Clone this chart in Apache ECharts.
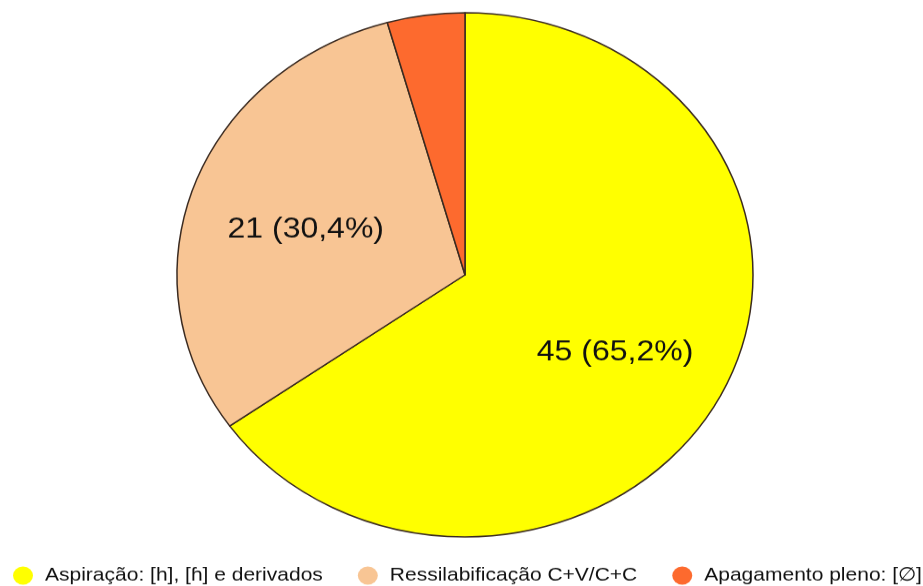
<!DOCTYPE html>
<html>
<head>
<meta charset="utf-8">
<script src="https://cdn.jsdelivr.net/npm/echarts@6/dist/echarts.min.js"></script>
<style>
html,body{margin:0;padding:0;background:#fff;overflow:hidden;width:923px;height:586px;}
#chart{width:923px;height:644px;transform:scaleY(0.91);transform-origin:0 0;}
</style>
</head>
<body>
<div id="chart"></div>
<script>
const categories = ["Aspiração: [h], [ɦ] e derivados", "Ressilabificação C+V/C+C", "Apagamento pleno: [∅]"];
const values = [45, 21, 3];
const percentLabels = ["65,2%", "30,4%", "4,3%"];
const showLabel = [true, true, false];
const colors = ["#ffff00", "#f8c594", "#fd6a2e"];

const chart = echarts.init(document.getElementById('chart'));
const font = "'Liberation Sans', Arial, sans-serif";
chart.setOption({
  animation: false,
  color: colors,
  legend: {
    left: 13,
    top: 622,
    width: 910,
    padding: 0,
    icon: 'circle',
    itemWidth: 20,
    itemHeight: 20,
    itemGap: 35,
    itemStyle: { borderWidth: 0 },
    textStyle: { fontFamily: font, fontSize: 21, color: '#111', padding: [0, 0, 0, 7] },
    data: categories
  },
  series: [
    {
      type: 'pie',
      center: [465, 302],
      radius: [0, 288],
      startAngle: 90,
      clockwise: true,
      silent: true,
      label: { show: false },
      labelLine: { show: false },
      itemStyle: { borderColor: '#3a2a20', borderWidth: 1.5 },
      data: categories.map((c, i) => ({ name: c, value: values[i], itemStyle: { color: colors[i] } }))
    },
    {
      type: 'pie',
      center: [465, 302],
      radius: [0, 332],
      startAngle: 90,
      clockwise: true,
      silent: true,
      z: 5,
      legendHoverLink: false,
      itemStyle: { color: 'rgba(0,0,0,0)', borderWidth: 0 },
      labelLine: { show: false },
      label: {
        show: true,
        position: 'inside',
        offset: [0, 7],
        fontFamily: font,
        fontSize: 32,
        color: '#111',
        formatter: p => values[p.dataIndex] + ' (' + percentLabels[p.dataIndex] + ')'
      },
      data: categories.map((c, i) => ({ name: c, value: values[i], label: { show: showLabel[i] } }))
    }
  ]
});
</script>
</body>
</html>
